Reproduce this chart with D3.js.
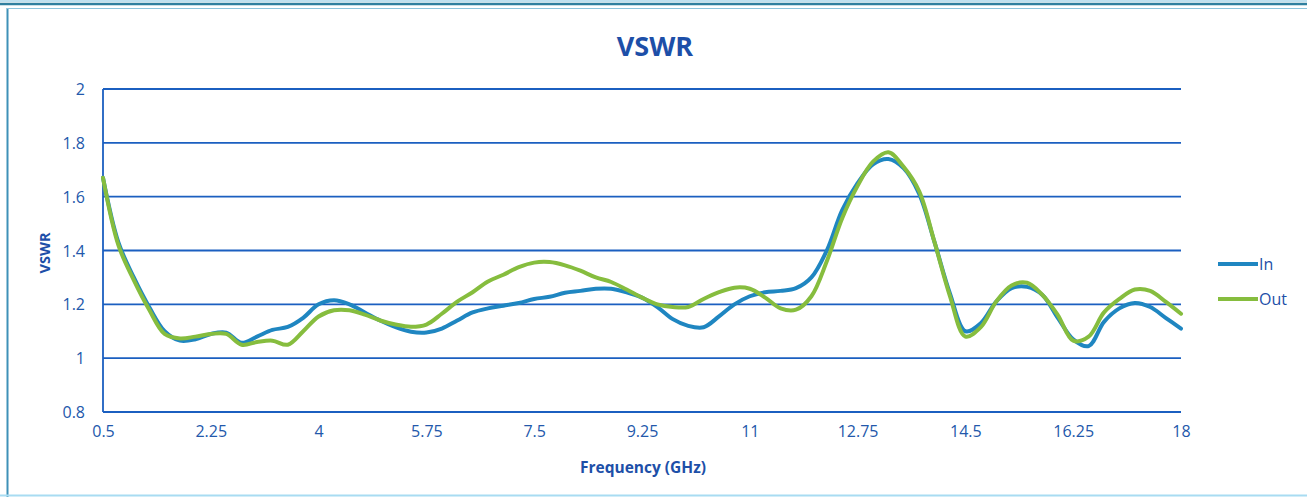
<!DOCTYPE html>
<html>
<head>
<meta charset="utf-8">
<script src="https://cdn.jsdelivr.net/npm/d3@7/dist/d3.min.js"></script>
<style>
  html, body { margin: 0; padding: 0; background: #fff; }
  svg { display: block; }
  text { font-family: "Open Sans", "Liberation Sans", sans-serif; }
</style>
</head>
<body>
<svg id="chart" width="1307" height="497"></svg>
<script>
const freqs = [0.5,0.75,1,1.25,1.5,1.75,2,2.25,2.5,2.75,3,3.25,3.5,3.75,4,4.25,4.5,4.75,5,5.25,5.5,5.75,6,6.25,6.5,6.75,7,7.25,7.5,7.75,8,8.25,8.5,8.75,9,9.25,9.5,9.75,10,10.25,10.5,10.75,11,11.25,11.5,11.75,12,12.25,12.5,12.75,13,13.25,13.5,13.75,14,14.25,14.5,14.75,15,15.25,15.5,15.75,16,16.25,16.5,16.75,17,17.25,17.5,17.75,18];
const vswrIn = [1.67,1.43,1.30,1.19,1.10,1.065,1.07,1.09,1.095,1.057,1.08,1.105,1.116,1.15,1.20,1.215,1.20,1.17,1.14,1.115,1.098,1.095,1.11,1.14,1.17,1.185,1.195,1.205,1.22,1.228,1.243,1.25,1.258,1.258,1.245,1.225,1.19,1.145,1.12,1.115,1.155,1.20,1.23,1.245,1.25,1.26,1.30,1.40,1.55,1.65,1.72,1.74,1.705,1.61,1.43,1.24,1.10,1.13,1.21,1.26,1.265,1.235,1.15,1.07,1.045,1.135,1.185,1.205,1.19,1.15,1.11];
const vswrOut = [1.67,1.42,1.29,1.18,1.09,1.073,1.08,1.09,1.09,1.05,1.06,1.065,1.05,1.10,1.155,1.178,1.178,1.162,1.14,1.125,1.117,1.125,1.165,1.21,1.245,1.285,1.31,1.338,1.355,1.357,1.345,1.325,1.30,1.283,1.255,1.225,1.20,1.19,1.19,1.22,1.245,1.262,1.258,1.225,1.185,1.18,1.23,1.36,1.52,1.64,1.73,1.765,1.71,1.62,1.43,1.23,1.08,1.115,1.21,1.27,1.28,1.235,1.16,1.065,1.08,1.17,1.22,1.255,1.25,1.21,1.165];
const xTicks = [0.5,2.25,4,5.75,7.5,9.25,11,12.75,14.5,16.25,18];
const yTicks = [0.8,1,1.2,1.4,1.6,1.8,2];
const seriesNames = ["In","Out"];
const seriesColors = ["#1f86c1","#86bd3e"];

const svg = d3.select("#chart");
const W = 1307, H = 497;

// frame
svg.append("rect").attr("x",0).attr("y",0).attr("width",W).attr("height",H).attr("fill","#fff");
svg.append("line").attr("x1",0).attr("x2",W).attr("y1",4).attr("y2",4).attr("stroke","#2f7f9f").attr("stroke-width",2.5);
svg.append("line").attr("x1",0).attr("x2",W).attr("y1",1).attr("y2",1).attr("stroke","#a9d6ea").attr("stroke-width",1.5);
svg.append("line").attr("x1",7.5).attr("x2",7.5).attr("y1",8).attr("y2",H).attr("stroke","#3f91b8").attr("stroke-width",2);
svg.append("line").attr("x1",7).attr("x2",W).attr("y1",8.5).attr("y2",8.5).attr("stroke","#8cc4dd").attr("stroke-width",1);
svg.append("line").attr("x1",0).attr("x2",W).attr("y1",495.5).attr("y2",495.5).attr("stroke","#a8dcf2").attr("stroke-width",2);

const x = d3.scaleLinear().domain([0.5,18]).range([103,1181]);
const y = d3.scaleLinear().domain([0.8,2]).range([412,89]);

const txtCol = "#2358ab";

// gridlines
svg.append("g").selectAll("line").data(yTicks).join("line")
  .attr("x1",103).attr("x2",1181)
  .attr("y1",d=>y(d)).attr("y2",d=>y(d))
  .attr("stroke","#1b5fc0").attr("stroke-width",1.8);

// left axis line
svg.append("line").attr("x1",103).attr("x2",103).attr("y1",y(2)).attr("y2",y(0.8))
  .attr("stroke","#1b5fc0").attr("stroke-width",1.8);

// y tick labels
const yAxis = d3.axisLeft(y).tickValues(yTicks).tickSize(0).tickPadding(0).tickFormat(d3.format("~g"));
const gy = svg.append("g").attr("transform","translate(85,0)").call(yAxis);
gy.select(".domain").remove();
gy.selectAll("text").attr("fill",txtCol).style("font-size","16px").attr("dy","0.35em").style("font-family","'Open Sans', sans-serif");

// x tick labels
const xAxis = d3.axisBottom(x).tickValues(xTicks).tickSize(0).tickPadding(0).tickFormat(d3.format("~g"));
const gx = svg.append("g").attr("transform","translate(0,431)").call(xAxis);
gx.select(".domain").remove();
gx.selectAll("text").attr("fill",txtCol).style("font-size","16px").attr("dy","0.35em").style("font-family","'Open Sans', sans-serif");

// lines
const series = [vswrIn, vswrOut];
const line = d3.line().x((d,i)=>x(freqs[i])).y(d=>y(d)).curve(d3.curveCatmullRom.alpha(0.5));
svg.append("g").selectAll("path").data(series).join("path")
  .attr("d", d=>line(d))
  .attr("fill","none")
  .attr("stroke",(d,i)=>seriesColors[i])
  .attr("stroke-width",4)
  .attr("stroke-linejoin","round")
  .attr("stroke-linecap","round");

// title
svg.append("text").attr("x",655).attr("y",56).attr("text-anchor","middle")
  .attr("fill","#1d4fa8").style("font-size","27px").style("font-weight","bold").text("VSWR");

// axis titles
svg.append("text").attr("x",643).attr("y",473).attr("text-anchor","middle")
  .attr("fill","#1d4fa8").style("font-size","15.5px").style("font-weight","bold").text("Frequency (GHz)");
svg.append("text").attr("transform","translate(50,253) rotate(-90)").attr("text-anchor","middle")
  .attr("fill","#1d4fa8").style("font-size","14.5px").style("font-weight","bold").text("VSWR");

// legend
const lg = svg.append("g").selectAll("g").data(seriesNames).join("g")
  .attr("transform",(d,i)=>`translate(1218,${264+i*35})`);
lg.append("line").attr("x1",0).attr("x2",40).attr("y1",0).attr("y2",0)
  .attr("stroke",(d,i)=>seriesColors[i]).attr("stroke-width",4);
lg.append("text").attr("x",41).attr("y",0).attr("dy","0.35em")
  .attr("fill","#1d4fa8").style("font-size","16px").text(d=>d);
</script>
</body>
</html>
